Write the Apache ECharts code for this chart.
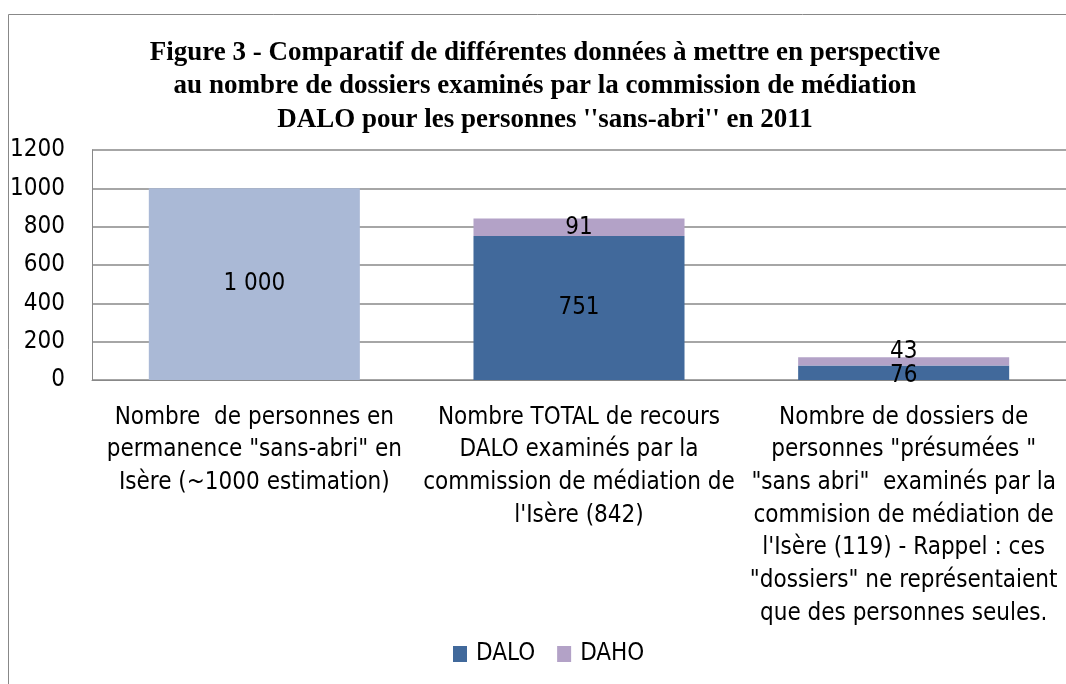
<!DOCTYPE html>
<html>
<head>
<meta charset="utf-8">
<script src="https://cdn.jsdelivr.net/npm/echarts@6/dist/echarts.min.js"></script>
<style>
  html, body { margin: 0; padding: 0; background: #fff; }
  #main { width: 1066px; height: 684px; }
</style>
</head>
<body>
<div id="main"></div>
<script>
// données du graphique
var categories = [
  'Nombre  de personnes en\npermanence "sans-abri" en\nIsère (~1000 estimation)',
  'Nombre TOTAL de recours\nDALO examinés par la\ncommission de médiation de\nl\'Isère (842)',
  'Nombre de dossiers de\npersonnes "présumées "\n"sans abri"  examinés par la\ncommision de médiation de\nl\'Isère (119) - Rappel : ces\n"dossiers" ne représentaient\nque des personnes seules.'
];
var estimation = [1000, '-', '-'];
var dalo = ['-', 751, 76];
var daho = ['-', 91, 43];
var yTicks = [0, 200, 400, 600, 800, 1000, 1200];

var labelFont = "'DejaVu Sans Condensed', 'DejaVu Sans', sans-serif";

function fmt (v) {
  return String(v).replace(/\B(?=(\d{3})+(?!\d))/g, ' ');
}

var myChart = echarts.init(document.getElementById('main'));

var option = {
  animation: false,
  title: {
    text: 'Figure 3 - Comparatif de différentes données à mettre en perspective\nau nombre de dossiers examinés par la commission de médiation\nDALO pour les personnes \'\'sans-abri\'\' en 2011',
    left: 540,
    top: 31,
    textAlign: 'center',
    textStyle: {
      fontFamily: "'Liberation Serif', 'Times New Roman', serif",
      fontWeight: 'bold',
      fontSize: 27,
      lineHeight: 33.5,
      color: '#000'
    }
  },
  legend: {
    data: ['DALO', 'DAHO'],
    left: 448,
    top: 637,
    itemWidth: 14,
    itemHeight: 16,
    itemGap: 22,
    icon: 'rect',
    textStyle: { fontFamily: labelFont, fontSize: 24, color: '#000', padding: [0, 0, 0, 4] }
  },
  graphic: [{
    type: 'rect',
    shape: { x: 8.5, y: 14.5, width: 1100, height: 700 },
    style: { fill: 'none', stroke: '#888', lineWidth: 1 }
  }],
  grid: {
    left: 92,
    right: -9,
    top: 150,
    bottom: 304
  },
  xAxis: {
    type: 'category',
    data: categories,
    axisTick: { show: false },
    axisLine: { lineStyle: { color: '#888' } },
    axisLabel: {
      interval: 0,
      margin: 21,
      fontFamily: labelFont,
      fontSize: 24,
      lineHeight: 32.7,
      color: '#000',
      verticalAlign: 'top'
    }
  },
  yAxis: {
    type: 'value',
    min: yTicks[0],
    max: yTicks[yTicks.length - 1],
    interval: 200,
    axisLine: { show: true, lineStyle: { color: '#888' } },
    axisTick: { show: false },
    splitLine: { lineStyle: { color: '#888', width: 1.5 } },
    axisLabel: {
      margin: 27,
      fontFamily: labelFont,
      fontSize: 24,
      color: '#000',
      formatter: function (v) { return String(v); }
    }
  },
  series: [
    {
      name: 'Estimation',
      type: 'bar',
      stack: 'total',
      barWidth: '65%',
      data: estimation,
      itemStyle: { color: '#AAB9D6' },
      label: {
        show: true, position: 'inside', color: '#000',
        fontFamily: labelFont, fontSize: 24,
        formatter: function (p) { return fmt(p.value); }
      }
    },
    {
      name: 'DALO',
      type: 'bar',
      stack: 'total',
      data: dalo,
      itemStyle: { color: '#41699B' },
      label: {
        show: true, position: 'inside', color: '#000',
        fontFamily: labelFont, fontSize: 24
      },
      labelLayout: function (p) {
        return p.dataIndex === 2 ? { dy: 3 } : {};
      }
    },
    {
      name: 'DAHO',
      type: 'bar',
      stack: 'total',
      data: daho,
      itemStyle: { color: '#B3A2C7' },
      label: {
        show: true, position: 'inside', color: '#000',
        fontFamily: labelFont, fontSize: 24
      },
      labelLayout: function (p) {
        return p.dataIndex === 2 ? { dy: -10 } : {};
      }
    }
  ]
};

myChart.setOption(option);
</script>
</body>
</html>
